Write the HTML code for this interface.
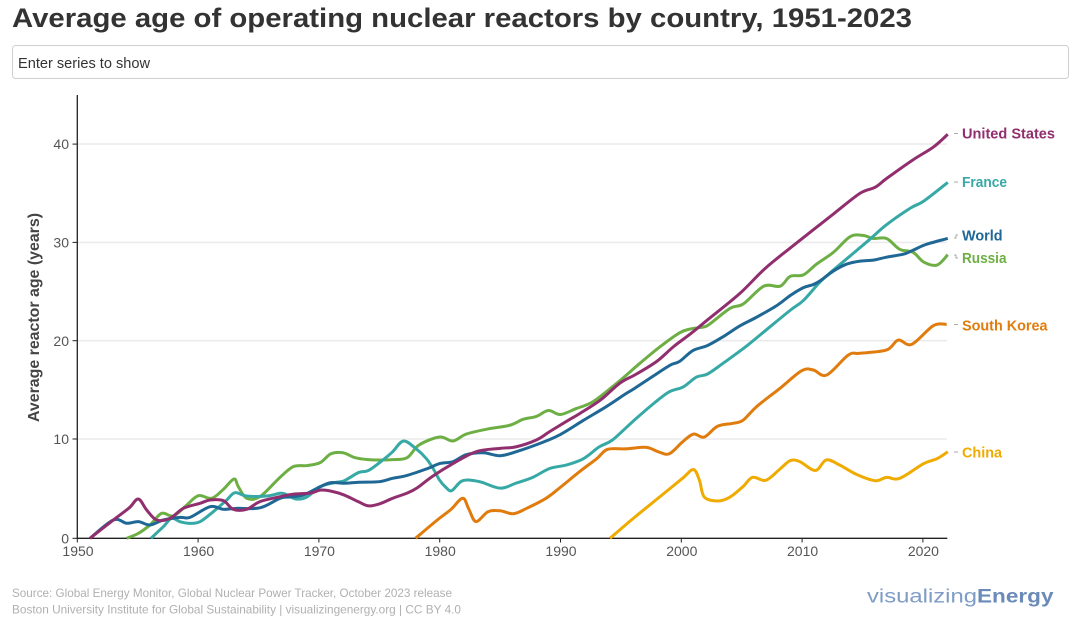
<!DOCTYPE html>
<html>
<head>
<meta charset="utf-8">
<style>
  html, body { margin:0; padding:0; background:#fff; }
  body { width:1085px; height:625px; overflow:hidden; }
  svg { display:block; }
  text { font-family: "Liberation Sans", sans-serif; }
</style>
</head>
<body>
<svg width="1085" height="625" viewBox="0 0 1085 625" xmlns="http://www.w3.org/2000/svg">
  <!-- Title -->
  <text x="12" y="27" font-size="27" font-weight="bold" fill="#333" textLength="900" lengthAdjust="spacingAndGlyphs">Average age of operating nuclear reactors by country, 1951-2023</text>

  <!-- Input box -->
  <rect x="12.5" y="45.5" width="1056" height="33" rx="3" ry="3" fill="#fff" stroke="#cfcfcf" stroke-width="1"/>
  <text x="18" y="68" font-size="15" fill="#333" textLength="132" lengthAdjust="spacingAndGlyphs">Enter series to show</text>

  <!-- Gridlines -->
  <g stroke="#ebebeb" stroke-width="1.6">
    <line x1="78" y1="144.1" x2="947" y2="144.1"/>
    <line x1="78" y1="242.4" x2="947" y2="242.4"/>
    <line x1="78" y1="340.7" x2="947" y2="340.7"/>
    <line x1="78" y1="439.0" x2="947" y2="439.0"/>
  </g>

  <!-- Y axis -->
  <line x1="77.3" y1="95" x2="77.3" y2="538.8" stroke="#222" stroke-width="1.3"/>
  <g stroke="#222" stroke-width="1">
    <line x1="72.5" y1="144.1" x2="77.3" y2="144.1"/>
    <line x1="72.5" y1="242.4" x2="77.3" y2="242.4"/>
    <line x1="72.5" y1="340.7" x2="77.3" y2="340.7"/>
    <line x1="72.5" y1="439.0" x2="77.3" y2="439.0"/>
    <line x1="72.5" y1="538.3" x2="77.3" y2="538.3"/>
  </g>
  <g font-size="14" fill="#555" text-anchor="end">
    <text x="69" y="149">40</text>
    <text x="69" y="247.5">30</text>
    <text x="69" y="345.8">20</text>
    <text x="69" y="444">10</text>
    <text x="69" y="543.3">0</text>
  </g>
  <text transform="translate(39,317.5) rotate(-90)" text-anchor="middle" font-size="16" font-weight="bold" fill="#444" textLength="209" lengthAdjust="spacingAndGlyphs">Average reactor age (years)</text>

  <!-- X axis -->
  <line x1="77.3" y1="538.3" x2="947.3" y2="538.3" stroke="#222" stroke-width="1.3"/>
  <g stroke="#222" stroke-width="1">
    <line x1="77.3" y1="538.3" x2="77.3" y2="542.5"/>
    <line x1="198.1" y1="538.3" x2="198.1" y2="542.5"/>
    <line x1="318.9" y1="538.3" x2="318.9" y2="542.5"/>
    <line x1="439.7" y1="538.3" x2="439.7" y2="542.5"/>
    <line x1="560.5" y1="538.3" x2="560.5" y2="542.5"/>
    <line x1="681.3" y1="538.3" x2="681.3" y2="542.5"/>
    <line x1="802.1" y1="538.3" x2="802.1" y2="542.5"/>
    <line x1="922.9" y1="538.3" x2="922.9" y2="542.5"/>
  </g>
  <g font-size="14" fill="#555" text-anchor="middle">
    <text x="78" y="556">1950</text>
    <text x="198.6" y="556">1960</text>
    <text x="319.4" y="556">1970</text>
    <text x="440.2" y="556">1980</text>
    <text x="561" y="556">1990</text>
    <text x="681.8" y="556">2000</text>
    <text x="802.6" y="556">2010</text>
    <text x="923.4" y="556">2020</text>
  </g>

  <!-- Series -->
  <g id="series" transform="matrix(12.08 0 0 -9.83 77.3 538.3)" fill="none" stroke-width="3" stroke-linejoin="round" stroke-linecap="butt">
    <polyline vector-effect="non-scaling-stroke" stroke="#f0ab00" points="44.1,0 46,2 48.2,4.2 50.1,6.1 51,7 51.5,5.9 51.9,4.2 53,3.8 54,4.17 55.1,5.25 55.9,6.2 57,5.9 58.17,7.05 59.02,7.9 59.81,7.8 61.1,6.9 62,7.97 63.1,7.46 64.5,6.5 66.04,5.86 66.99,6.2 68.08,6.1 70.07,7.6 71.17,8.1 72.06,8.8"/>
    <polyline vector-effect="non-scaling-stroke" stroke="#e07c0e" points="28,0 29.8,1.86 30.9,2.9 31.9,4.07 32.4,3 33,1.7 34,2.7 35,2.8 36.1,2.5 37.2,3.05 38.8,4.07 39.9,5.1 41.6,6.8 43,8.1 43.9,9.05 45.4,9.1 47.1,9.25 48.1,8.8 49,8.6 50.1,9.8 51,10.6 51.9,10.3 53,11.4 54.3,11.7 55.1,12 56.24,13.4 58.17,15.26 59.97,17.05 60.93,17.12 62.04,16.61 63.83,18.65 64.79,18.82 67,19.16 67.96,20.17 69.07,19.73 70.86,21.63 71.97,21.77"/>
    <polyline vector-effect="non-scaling-stroke" stroke="#6eaf45" points="4.09,0 5.05,0.5 6.02,1.36 6.98,2.54 7.95,2.27 9.06,3.39 10.02,4.34 11.13,4.07 12.09,4.98 12.97,6.03 13.33,5.25 14.02,4.07 15.12,4.24 16.78,6.2 17.9,7.3 19,7.4 20.1,7.7 21,8.6 22,8.7 23,8.2 24.1,8 25,7.97 26.1,8 27.3,8.2 28.3,9.5 30,10.3 31.1,9.9 32.2,10.6 33.9,11.1 35.8,11.5 36.9,12.1 38,12.4 39,13 40,12.6 41.3,13.2 42.7,13.9 44.68,15.8 46.57,17.8 48.26,19.5 49.86,20.9 50.76,21.3 51.86,21.5 52.35,21.8 54.04,23.4 55.14,23.85 56.83,25.65 58.18,25.65 59.02,26.65 60.11,26.8 61.2,27.9 62.6,29.1 63.99,30.7 65.09,30.8 65.89,30.5 66.99,30.5 68.08,29.4 69.18,29.1 70.07,28.1 71.17,27.8 72.06,28.85"/>
    <polyline vector-effect="non-scaling-stroke" stroke="#36a9a6" points="6.1,0 7.12,1.18 7.81,2.03 8.5,1.69 9.33,1.52 10.16,1.69 11.26,2.71 12.37,3.9 13.05,4.64 14.02,4.3 15.67,4.3 16.78,4.58 17.2,4.5 18.1,4 19,4.2 20.1,5.25 21.3,5.66 22.1,5.86 23.3,6.7 24.1,6.9 25.3,7.97 26.1,8.8 27,9.9 28,9.15 28.9,8.1 29.5,7 30,5.9 30.5,5.2 31,4.85 31.9,5.86 33.3,5.76 35,5.1 36.3,5.6 37.7,6.2 39.1,7.1 40.5,7.46 41.9,8.1 43.2,9.3 44.3,10 46,11.9 47.7,13.7 49,14.9 50.16,15.4 51.25,16.4 52.15,16.7 53.45,17.8 55.44,19.6 57.03,21.2 59.02,23.2 60.11,24.2 61.5,26.1 62.6,27.3 65.4,30.2 66.99,31.9 68.98,33.6 70.07,34.3 72.06,36.2"/>
    <polyline vector-effect="non-scaling-stroke" stroke="#1f6794" points="1.05,0 2.98,1.86 4.09,1.53 5.05,1.7 6.02,1.36 7.12,1.86 8.5,2.13 9.33,2.13 10.99,3.22 12.09,2.95 13.19,3.05 15.12,3.1 16.78,4.07 17.6,4.2 18.7,4.4 20.1,5.25 21,5.66 22.1,5.6 23.3,5.7 25,5.76 26.1,6.1 27.3,6.4 29,7.1 30,7.6 31.1,7.8 32.2,8.5 33.6,8.7 35,8.4 36.3,8.8 38.3,9.66 39.9,10.5 41.9,12 43.8,13.4 45.4,14.7 46.07,15.2 47.67,16.5 49.06,17.6 49.86,18 50.96,19.1 52.15,19.6 53.45,20.5 54.84,21.6 56.24,22.5 57.93,23.7 59.02,24.7 60.11,25.5 60.9,25.8 61.5,26.2 62.6,27.2 63.7,27.9 64.8,28.2 65.9,28.3 66.99,28.6 68.38,28.9 69.18,29.3 70.27,29.9 72.06,30.5"/>
    <polyline vector-effect="non-scaling-stroke" stroke="#912f6e" points="1.05,0 2.98,1.86 4.3,3.1 5.05,4 5.74,2.88 6.57,1.86 7.67,2.03 8.78,3.05 10.16,3.56 10.99,3.9 12.09,3.83 12.91,2.95 14.02,2.95 15.12,3.73 16.78,4.23 17.9,4.5 19.3,4.6 20.1,4.9 21,4.8 22.1,4.4 23.3,3.7 24.1,3.3 25,3.5 26.1,4.07 27.3,4.6 28.1,5.1 29.4,6.3 31.1,7.6 33,8.8 35,9.15 36.3,9.3 38,10 39.1,10.85 40.5,11.9 41.6,12.7 43.29,14.05 44.93,15.8 46.27,16.7 47.97,18 49.36,19.5 50.76,20.8 52.15,22.2 54.84,24.9 57.03,27.55 59.81,30.3 62.6,33 64.8,35.1 66.04,35.7 66.99,36.6 69.18,38.5 70.87,39.8 72.06,41.1"/>
  </g>

  <!-- Leader dashes -->
  <g stroke="#aaa" stroke-width="1" fill="none">
    <line x1="954" y1="133.5" x2="958" y2="133.5"/>
    <line x1="954" y1="182" x2="958" y2="182"/>
    <polyline points="954,238 956,238 956,235 958,235"/>
    <polyline points="954,255 956,255 956,258 958,258"/>
    <line x1="954" y1="324.5" x2="958" y2="324.5"/>
    <line x1="954" y1="452" x2="958" y2="452"/>
  </g>

  <!-- Series labels -->
  <g font-size="15" font-weight="bold">
    <text x="962" y="138.5" fill="#912f6e" textLength="93" lengthAdjust="spacingAndGlyphs">United States</text>
    <text x="962" y="187" fill="#36a9a6" textLength="45" lengthAdjust="spacingAndGlyphs">France</text>
    <text x="962" y="240.5" fill="#1f6794" textLength="40.5" lengthAdjust="spacingAndGlyphs">World</text>
    <text x="962" y="263" fill="#6eaf45" textLength="44.5" lengthAdjust="spacingAndGlyphs">Russia</text>
    <text x="962" y="330.5" fill="#e07c0e" textLength="85.5" lengthAdjust="spacingAndGlyphs">South Korea</text>
    <text x="962" y="457.5" fill="#f0ab00" textLength="40" lengthAdjust="spacingAndGlyphs">China</text>
  </g>

  <!-- Footer -->
  <g font-size="12" fill="#b0b0b0">
    <text x="12" y="597" textLength="440" lengthAdjust="spacingAndGlyphs">Source: Global Energy Monitor, Global Nuclear Power Tracker, October 2023 release</text>
    <text x="12" y="613.5" textLength="449" lengthAdjust="spacingAndGlyphs">Boston University Institute for Global Sustainability | visualizingenergy.org | CC BY 4.0</text>
  </g>

  <!-- Logo -->
  <text x="867" y="602.5" font-size="19" fill="#7e9cc6" textLength="110" lengthAdjust="spacingAndGlyphs">visualizing</text>
  <text x="977" y="602.5" font-size="19" font-weight="bold" fill="#6a8ab8" textLength="76.5" lengthAdjust="spacingAndGlyphs">Energy</text>
</svg>
<script>
(function(){
  var NS = "http://www.w3.org/2000/svg";
  var g = document.getElementById("series");
  if (!g) return;
  var pls = Array.prototype.slice.call(g.getElementsByTagName("polyline"));
  pls.forEach(function(pl){
    var pts = pl.getAttribute("points").trim().split(/\s+/).map(function(s){
      var a = s.split(","); return [parseFloat(a[0]), parseFloat(a[1])];
    });
    if (pts.length < 3) return;
    var d = "M" + pts[0][0] + "," + pts[0][1];
    for (var i = 0; i < pts.length - 1; i++) {
      var p0 = pts[i > 0 ? i - 1 : i], p1 = pts[i], p2 = pts[i + 1], p3 = pts[i + 2 < pts.length ? i + 2 : i + 1];
      var c1x = p1[0] + (p2[0] - p0[0]) / 6, c1y = p1[1] + (p2[1] - p0[1]) / 6;
      var c2x = p2[0] - (p3[0] - p1[0]) / 6, c2y = p2[1] - (p3[1] - p1[1]) / 6;
      if (c1x > p2[0]) c1x = p2[0];
      if (c2x < p1[0]) c2x = p1[0];
      d += " C" + c1x + "," + c1y + " " + c2x + "," + c2y + " " + p2[0] + "," + p2[1];
    }
    var path = document.createElementNS(NS, "path");
    path.setAttribute("d", d);
    path.setAttribute("stroke", pl.getAttribute("stroke"));
    path.setAttribute("vector-effect", "non-scaling-stroke");
    path.setAttribute("fill", "none");
    g.replaceChild(path, pl);
  });
})();
</script>
</body>
</html>
